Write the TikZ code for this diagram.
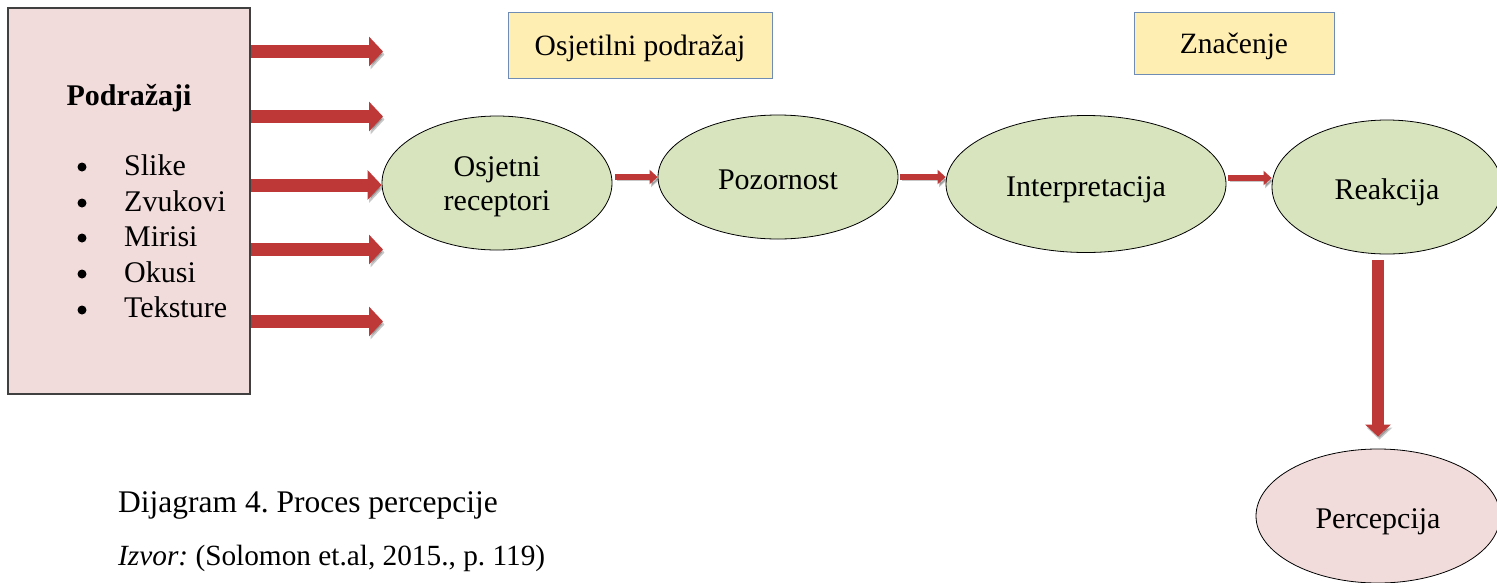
\documentclass[tikz,border=0pt]{standalone}
\usepackage{fontspec}
\setmainfont{Liberation Serif}
\usetikzlibrary{arrows.meta,shapes.geometric}
\frenchspacing
\definecolor{pinkfill}{RGB}{242,220,219}
\definecolor{greenfill}{RGB}{215,228,189}
\definecolor{yellowfill}{RGB}{255,238,178}
\definecolor{yellowedge}{RGB}{110,140,180}
\definecolor{arrowred}{RGB}{190,56,56}
\tikzset{
  lbl/.style={font=\fontsize{30}{36}\selectfont},
  stimbox/.style={draw=black!75, line width=1.6pt, fill=pinkfill, minimum width=242pt, minimum height=386pt, inner sep=0pt},
  oval/.style={ellipse, draw=black, line width=0.8pt, fill=greenfill, inner sep=0pt, font=\fontsize{30}{34}\selectfont},
  notebox/.style={draw=yellowedge, line width=1pt, fill=yellowfill, inner sep=0pt, font=\fontsize{29.5}{34}\selectfont},
  shade/.style={preaction={draw=black, opacity=0.22, transform canvas={shift={(1.5pt,-3pt)}}}},
  bigarrow/.style={shade, draw=arrowred, line width=13pt, -{Triangle[width=29pt,length=14pt]}},
  smallarrow/.style={shade, draw=arrowred, line width=6pt, -{Triangle[width=14pt,length=8pt]}},
  vertarrow/.style={shade, draw=arrowred, line width=12pt, -{Triangle[width=25pt,length=12pt]}},
  bullet/.style={circle, fill=black, inner sep=0pt, minimum size=9pt}
}
\begin{document}
\begin{tikzpicture}[x=1pt,y=-1pt]
\useasboundingbox (0,0) rectangle (1497,582);
% stimulus box
\node[stimbox] (pod) at (129,201) {};
\node[lbl, font=\fontsize{30}{36}\selectfont\bfseries, anchor=base] (podt) at (129,105) {Podražaji};
\foreach \t/\yb/\yc [count=\i] in {Slike/175/167, Zvukovi/211/203, Mirisi/246/238, Okusi/282/274, Teksture/317/310}{
  \node[bullet] (b\i) at (82,\yc) {};
  \node[lbl, anchor=base west, inner sep=0pt] (it\i) at (124,\yb) {\t};
}
% ellipses
\node[oval, minimum width=230pt, minimum height=134pt] (osj) at (497,183) {\raisebox{0pt}[0pt][14pt]{\begin{tabular}[t]{@{}c@{}}Osjetni\\receptori\end{tabular}}};
\node[oval, minimum width=240pt, minimum height=124pt] (poz) at (778,177) {\raisebox{0pt}[24pt][0pt]{Pozornost}};
\node[oval, minimum width=280pt, minimum height=137pt] (int) at (1086,184) {\raisebox{0pt}[24pt][0pt]{Interpretacija}};
\node[oval, minimum width=230pt, minimum height=134pt] (rea) at (1387,187) {\raisebox{0pt}[24pt][0pt]{Reakcija}};
\node[oval, fill=pinkfill, minimum width=244pt, minimum height=134pt] (per) at (1378,516) {\raisebox{0pt}[24pt][0pt]{Percepcija}};
% yellow boxes
\node[notebox, minimum width=264pt, minimum height=66pt] (osp) at (640,45) {\raisebox{0pt}[20pt][0pt]{Osjetilni podražaj}};
\node[notebox, minimum width=200pt, minimum height=62pt] (zna) at (1234,43) {\raisebox{0pt}[20pt][0pt]{Značenje}};
% big arrows out of the box
\foreach \y [count=\i] in {51.5,116.5,185,249.5,321.5}{
  \coordinate (s\i) at (pod.east |- 0,\y);
  \coordinate (e\i) at (383,\y);
}
\draw[bigarrow] (s1) -- (e1);
\draw[bigarrow] (s2) -- (e2);
\draw[bigarrow] (s3) -- (osj.west |- s3);
\draw[bigarrow] (s4) -- (e4);
\draw[bigarrow] (s5) -- (e5);
% chain arrows
\draw[smallarrow] ([xshift=3pt]osj.east |- poz.west) -- (poz.west);
\draw[smallarrow] ([xshift=2pt]poz.east) -- (int.west |- poz.east);
\draw[smallarrow] ([xshift=2pt]int.east |- 0,178) -- (rea.west |- 0,178);
\draw[vertarrow] ([yshift=-6pt]rea.south -| per.north) -- ([yshift=12pt]per.north);
% caption
\node[lbl, font=\fontsize{31.5}{36}\selectfont, anchor=base west, inner sep=0pt] (cap) at (118,512) {Dijagram 4. Proces percepcije};
\node[anchor=base west, inner sep=0pt, font=\fontsize{29.3}{34}\selectfont] (src) at (118,565) {\textit{Izvor:} (Solomon et.al, 2015., p. 119)};
\end{tikzpicture}
\end{document}
